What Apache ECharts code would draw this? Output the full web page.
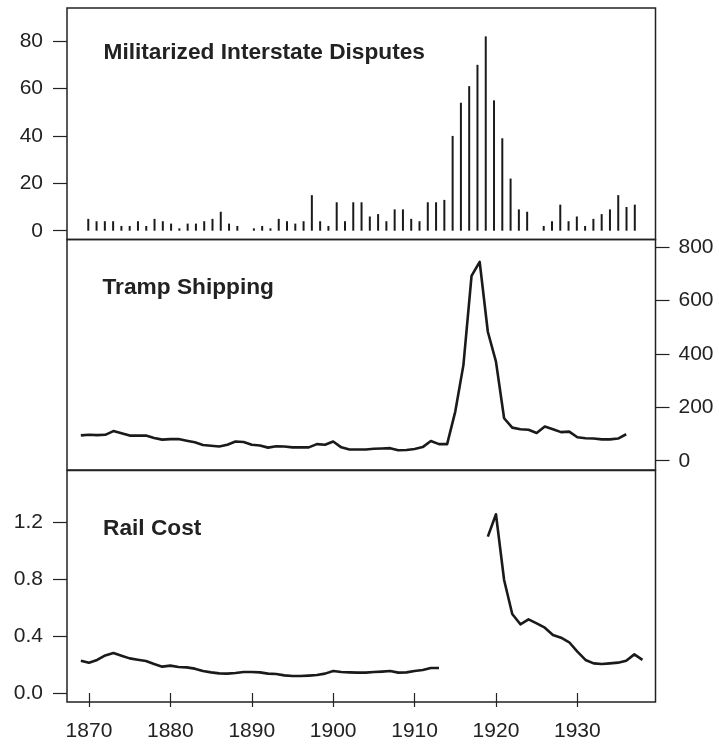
<!DOCTYPE html>
<html>
<head>
<meta charset="utf-8">
<script src="https://cdn.jsdelivr.net/npm/echarts@6/dist/echarts.min.js"></script>
<style>html,body{margin:0;padding:0;background:#fff;}#c{width:719px;height:746px;}</style>
</head>
<body>
<div id="c"></div>
<script>
// ---- data ----
const midStart = 1870;
const midValues = [5,4,4,4,2,2,4,2,5,4, 3,1,3,3,4,5,8,3,2,0, 1,2,1,5,4,3,4,15,4,2,
  12,4,12,12,6,7,4,9,9,5, 4,12,12,13,40,54,61,70,82,55, 39,22,9,8,0,2,4,11,4,6, 2,5,7,9,15,10,11];
const trampStart = 1869;
const trampValues = [95,97,96,97,111,103,94,94,94,85,79,
  81,81,75,69,59,56,53,60,72,70,
  60,57,49,54,53,50,50,50,62,60,
  72,50,42,42,42,45,46,47,39,40,
  44,51,74,62,62,184,358,692,745,483,
  371,159,124,118,116,104,128,118,107,109,
  88,84,83,80,80,83,99];
const railStart = 1869;
const railValues = [0.227,0.213,0.232,0.264,0.281,0.262,0.243,0.234,0.225,0.204,0.185,
  0.192,0.182,0.180,0.171,0.154,0.145,0.138,0.136,0.140,0.147,
  0.147,0.145,0.136,0.133,0.124,0.119,0.119,0.122,0.126,0.136,
  0.154,0.147,0.145,0.143,0.143,0.147,0.150,0.154,0.143,0.145,
  0.154,0.161,0.175,0.175,null,null,null,null,null,1.097,
  1.254,0.793,0.554,0.482,0.517,0.489,0.458,0.407,0.388,0.356,
  0.290,0.232,0.208,0.204,0.208,0.213,0.227,0.271,0.232];
const xTicks = [1870,1880,1890,1900,1910,1920,1930];
const midTicks = [0,20,40,60,80];
const trampTicks = [0,200,400,600,800];
const railTicks = [0.0,0.4,0.8,1.2];
const titles = ['Militarized Interstate Disputes','Tramp Shipping','Rail Cost'];

function pairs(start, vals){ return vals.map((v,i)=>[start+i, v]); }

const FONT = '"Liberation Sans", Arial, Helvetica, sans-serif';
const INK = '#222';
const chart = echarts.init(document.getElementById('c'), null, {renderer:'canvas'});

const gridBase = {left:67, right:63.5, show:true, borderColor:INK, borderWidth:1.5, backgroundColor:'transparent', containLabel:false};
const hiddenX = {show:true, axisLine:{show:false}, axisTick:{show:false}, axisLabel:{show:false}, splitLine:{show:false}};
const tickStyle = {show:true, length:14, lineStyle:{color:INK, width:1.2}};
const labelStyle = {fontSize:21, color:INK, fontFamily:FONT};

const option = {
  animation:false,
  grid:[
    Object.assign({top:8, height:231.5}, gridBase),
    Object.assign({top:239.5, height:230.5}, gridBase),
    Object.assign({top:470.5, height:231.5}, gridBase)
  ],
  xAxis:[
    Object.assign({type:'value', gridIndex:0, min:1867.43, max:1938.5}, hiddenX),
    Object.assign({type:'value', gridIndex:1, min:1867.30, max:1939.6}, hiddenX),
    {type:'value', gridIndex:2, min:1867.30, max:1939.6, position:'bottom',
     axisLine:{show:false}, splitLine:{show:false},
     axisTick:Object.assign({customValues:xTicks, inside:false}, tickStyle),
     axisLabel:Object.assign({customValues:xTicks, margin:19, formatter:v=>String(v)}, labelStyle)}
  ],
  yAxis:[
    {type:'value', gridIndex:0, min:-3.71, max:93.97, position:'left',
     axisLine:{show:false}, splitLine:{show:false},
     axisTick:Object.assign({customValues:midTicks}, tickStyle),
     axisLabel:Object.assign({customValues:midTicks, margin:24}, labelStyle)},
    {type:'value', gridIndex:1, min:-34.8, max:828.5, position:'right',
     axisLine:{show:false}, splitLine:{show:false},
     axisTick:Object.assign({customValues:trampTicks}, tickStyle),
     axisLabel:Object.assign({customValues:trampTicks, margin:23}, labelStyle)},
    {type:'value', gridIndex:2, min:-0.063, max:1.561, position:'left',
     axisLine:{show:false}, splitLine:{show:false},
     axisTick:Object.assign({customValues:railTicks}, tickStyle),
     axisLabel:Object.assign({customValues:railTicks, margin:24, formatter:v=>v.toFixed(1)}, labelStyle)}
  ],
  series:[
    {type:'bar', xAxisIndex:0, yAxisIndex:0, data:pairs(midStart, midValues), barWidth:2,
     itemStyle:{color:'#1a1a1a'}, silent:true},
    {type:'line', xAxisIndex:1, yAxisIndex:1, data:pairs(trampStart, trampValues), showSymbol:false, symbol:'none',
     lineStyle:{color:'#1a1a1a', width:2.6, join:'round'}, silent:true},
    {type:'line', xAxisIndex:2, yAxisIndex:2, data:pairs(railStart, railValues), showSymbol:false, symbol:'none',
     connectNulls:false, lineStyle:{color:'#1a1a1a', width:2.6, join:'round'}, silent:true}
  ],
  graphic:[
    {type:'text', left:103.5, top:41, style:{text:titles[0], font:'bold 22.7px '+FONT, fill:INK}},
    {type:'text', left:102.5, top:276, style:{text:titles[1], font:'bold 22.7px '+FONT, fill:INK}},
    {type:'text', left:103, top:517, style:{text:titles[2], font:'bold 22.7px '+FONT, fill:INK}}
  ]
};
chart.setOption(option);
</script>
</body>
</html>
